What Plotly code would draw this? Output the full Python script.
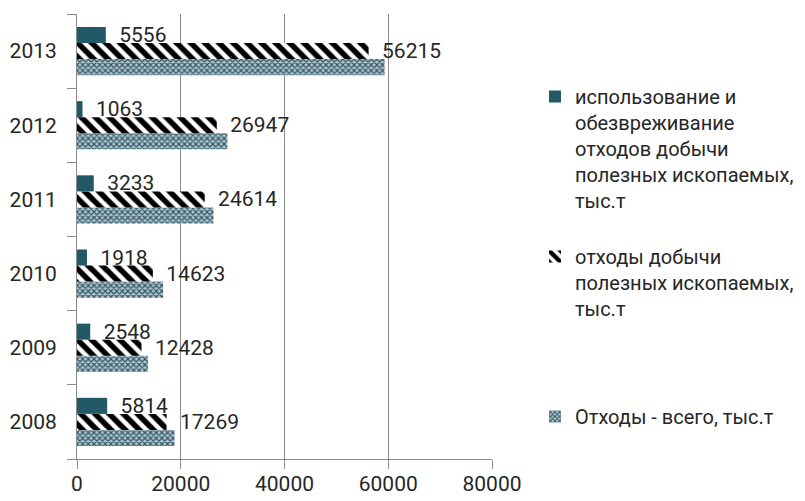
import plotly.graph_objects as go

years = ['2008', '2009', '2010', '2011', '2012', '2013']
total_waste = [18800, 13700, 16600, 26300, 29000, 59300]
mining_waste = [17269, 12428, 14623, 24614, 26947, 56215]
mining_used = [5814, 2548, 1918, 3233, 1063, 5556]

name_total = 'Отходы - всего, тыс.т'
name_mining = 'отходы добычи<br>полезных ископаемых,<br>тыс.т'
name_used = 'использование и<br>обезвреживание<br>отходов добычи<br>полезных ископаемых,<br>тыс.т'

teal = '#215967'
txt = '#262626'
fnt = 'Roboto'
pad = '\u00a0\u00a0'

# the page body keeps its default 8px margin, so the figure is 8px smaller
W, H = 797, 493

fig = go.Figure()
# plotly stacks grouped horizontal bars bottom-up, so the total goes first
fig.add_trace(go.Bar(
    y=years, x=total_waste, orientation='h', name=name_total,
    marker=dict(color='#b0c0c7', line=dict(width=0),
                pattern=dict(shape='x', fgcolor='#2c5868', bgcolor='#b4c4ca',
                             size=4, solidity=0.5, fgopacity=1)),
    legend='legend3', showlegend=True))
fig.add_trace(go.Bar(
    y=years, x=mining_waste, orientation='h', name=name_mining,
    text=[pad + str(v) for v in mining_waste], texttemplate='%{text}',
    textposition='outside', constraintext='none', cliponaxis=False,
    textfont=dict(family=fnt, size=21, color=txt),
    marker=dict(color='white', line=dict(width=0),
                pattern=dict(shape='\\', fgcolor='black', bgcolor='white',
                             size=10, solidity=0.55, fgopacity=1)),
    legend='legend2', showlegend=True))
fig.add_trace(go.Bar(
    y=years, x=mining_used, orientation='h', name=name_used,
    text=[pad + str(v) for v in mining_used], texttemplate='%{text}',
    textposition='outside', constraintext='none', cliponaxis=False,
    textfont=dict(family=fnt, size=21, color=txt),
    marker=dict(color=teal, line=dict(width=0)),
    legend='legend', showlegend=True))

legend_style = dict(xref='container', yref='container', x=527 / W,
                    xanchor='left', yanchor='top', valign='top',
                    font=dict(family=fnt, size=20, color=txt),
                    bgcolor='rgba(0,0,0,0)', itemwidth=30)

fig.update_layout(
    width=W, height=H,
    margin=dict(l=69, r=313, t=6, b=42, autoexpand=False),
    paper_bgcolor='white', plot_bgcolor='white',
    showlegend=True,
    barmode='group', bargap=0.35, bargroupgap=0,
    font=dict(family=fnt, size=21, color=txt),
    legend=dict(y=1 - 69 / H, **legend_style),
    legend2=dict(y=1 - 229 / H, **legend_style),
    legend3=dict(y=1 - 389 / H, **legend_style),
    xaxis=dict(range=[0, 80000], dtick=20000, tickformat='d',
               showgrid=True, gridcolor='#8c8c8c', gridwidth=1,
               showline=True, linecolor='#8c8c8c', ticks='outside',
               ticklen=9, tickcolor='#8c8c8c', zeroline=False,
               ticklabelstandoff=-3, automargin=False,
               tickfont=dict(family=fnt, size=21, color=txt)),
    yaxis=dict(type='category', showline=True, linecolor='#8c8c8c',
               ticks='outside', tickson='boundaries', ticklen=9,
               tickcolor='#8c8c8c', showgrid=False, ticklabelstandoff=15,
               automargin=False,
               tickfont=dict(family=fnt, size=21, color=txt)),
)

fig.write_html("out.html")
